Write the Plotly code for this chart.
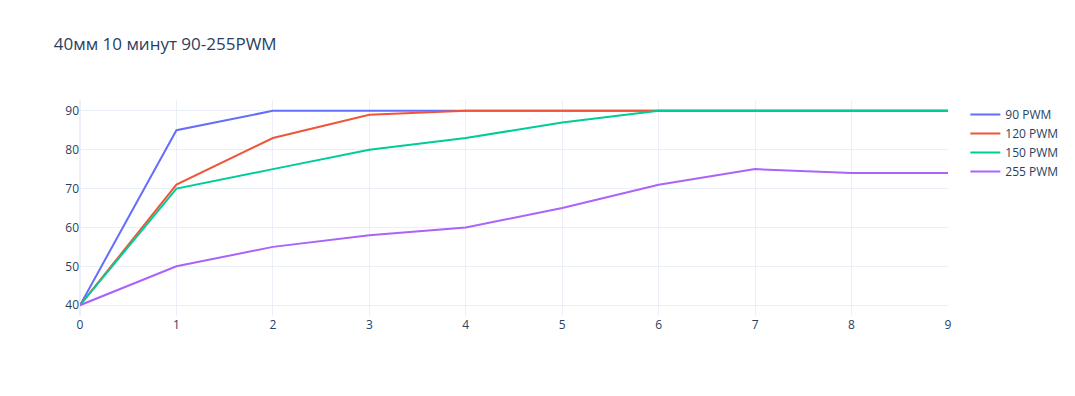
import plotly.graph_objects as go

minutes = [0, 1, 2, 3, 4, 5, 6, 7, 8, 9]
pwm90 = [40, 85, 90, 90, 90, 90, 90, 90, 90, 90]
pwm120 = [40, 71, 83, 89, 90, 90, 90, 90, 90, 90]
pwm150 = [40, 70, 75, 80, 83, 87, 90, 90, 90, 90]
pwm255 = [40, 50, 55, 58, 60, 65, 71, 75, 74, 74]

fig = go.Figure()
fig.add_trace(go.Scatter(x=minutes, y=pwm90, mode="lines", name="90 PWM"))
fig.add_trace(go.Scatter(x=minutes, y=pwm120, mode="lines", name="120 PWM"))
fig.add_trace(go.Scatter(x=minutes, y=pwm150, mode="lines", name="150 PWM"))
fig.add_trace(go.Scatter(x=minutes, y=pwm255, mode="lines", name="255 PWM"))

fig.update_layout(
    title=dict(text="40мм 10 минут 90-255PWM"),
    template="plotly_white",
    width=1075,
    height=396,
)
fig.write_html("out.html")
